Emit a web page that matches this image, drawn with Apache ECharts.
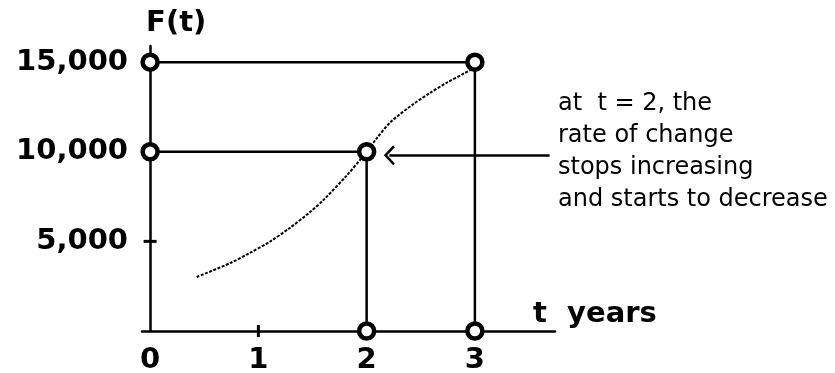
<!DOCTYPE html>
<html>
<head>
<meta charset="utf-8">
<script src="https://cdn.jsdelivr.net/npm/echarts@6/dist/echarts.min.js"></script>
<style>
  html, body { margin: 0; padding: 0; background: #fff; }
  #main { width: 835px; height: 373px; }
</style>
</head>
<body>
<div id="main"></div>
<script>
// curve F(t)
var curveT = [0.43, 0.74, 0.92, 1.11, 1.29, 1.48, 1.6, 1.82, 1.96, 2.1, 2.22, 2.43, 2.59, 2.74, 2.91, 3.0];
var curveF = [3010, 3790, 4350, 5000, 5750, 6650, 7300, 8700, 9700, 10800, 11650, 12650, 13300, 13850, 14400, 14700];

// open circles and the guide lines through them
var circles = [[0, 15000], [3, 15000], [0, 10000], [2, 10000], [2, 0], [3, 0]];
var guide15 = [[0, 15000], [3, 15000], [3, 0]];
var guide10 = [[0, 10000], [2, 10000], [2, 0]];

// axis ticks / labels
var xLabels = [0, 1, 2, 3];
var yLabels = [5000, 10000, 15000];
var xTicks = [1];
var yTicks = [5000];

var note = ['at  t = 2, the', 'rate of change', 'stops increasing', 'and starts to decrease'];
var arrowFrom = [3.69, 9800];
var arrowTo = [2.21, 9800];

var curveData = [];
for (var i = 0; i < curveT.length; i++) {
    curveData.push([curveT[i], curveF[i]]);
}
var tickData = [];
for (var i = 0; i < xTicks.length; i++) {
    tickData.push({ value: [xTicks[i], 0], symbolSize: [3, 12] });
}
for (var i = 0; i < yTicks.length; i++) {
    tickData.push({ value: [0, yTicks[i]], symbolSize: [13, 3] });
}

var boldFont = 'DejaVu Sans';
var myChart = echarts.init(document.getElementById('main'));

var option = {
    animation: false,
    backgroundColor: '#fff',
    grid: {
        left: 142,
        right: 280,
        top: 46,
        bottom: 42,
        containLabel: false,
        outerBoundsMode: 'none'
    },
    xAxis: {
        type: 'value',
        min: -0.075,
        max: 3.74,
        splitLine: { show: false },
        axisLine: { lineStyle: { color: '#000', width: 2.5 } },
        axisTick: { show: false },
        axisLabel: {
            customValues: xLabels,
            margin: 15,
            color: '#000',
            fontFamily: boldFont,
            fontWeight: 'bold',
            fontSize: 29
        },
        name: 't  years',
        nameLocation: 'end',
        nameGap: -22,
        nameTextStyle: {
            color: '#000',
            fontFamily: boldFont,
            fontWeight: 'bold',
            fontSize: 29,
            verticalAlign: 'bottom',
            padding: [0, 0, 2, 0]
        }
    },
    yAxis: {
        type: 'value',
        min: 0,
        max: 15900,
        splitLine: { show: false },
        axisLine: { onZero: true, lineStyle: { color: '#000', width: 2.5 } },
        axisTick: { show: false },
        axisLabel: {
            customValues: yLabels,
            margin: 14,
            color: '#000',
            fontFamily: boldFont,
            fontWeight: 'bold',
            fontSize: 29,
            formatter: function (v) {
                return v.toLocaleString('en-US');
            }
        },
        name: 'F(t)',
        nameLocation: 'end',
        nameGap: 8,
        nameTextStyle: {
            color: '#000',
            fontFamily: boldFont,
            fontWeight: 'bold',
            fontSize: 29,
            align: 'left',
            verticalAlign: 'bottom',
            padding: [0, 0, 0, -4]
        }
    },
    series: [
        {
            type: 'line',
            data: guide15,
            symbol: 'none',
            lineStyle: { color: '#000', width: 2.5 },
            z: 2
        },
        {
            type: 'line',
            data: guide10,
            symbol: 'none',
            lineStyle: { color: '#000', width: 2.5 },
            z: 2,
            markLine: {
                silent: true,
                symbol: ['none', 'path://M10,0 L20,10 L18.2,11.8 L10,3.6 L1.8,11.8 L0,10 Z'],
                symbolSize: [20, 11],
                label: { show: false },
                lineStyle: { color: '#000', width: 2.5, type: 'solid' },
                data: [[{ coord: arrowFrom }, { coord: arrowTo }]]
            }
        },
        {
            type: 'line',
            data: curveData,
            smooth: 0.3,
            symbol: 'none',
            lineStyle: { color: '#000', width: 2, type: [3, 1.5] },
            z: 3
        },
        {
            type: 'scatter',
            data: tickData,
            symbol: 'rect',
            itemStyle: { color: '#000', opacity: 1 },
            z: 4
        },
        {
            type: 'scatter',
            data: circles,
            symbol: 'circle',
            symbolSize: 15,
            itemStyle: { color: '#fff', borderColor: '#000', borderWidth: 4.5, opacity: 1 },
            z: 5
        }
    ],
    graphic: [
        {
            type: 'text',
            left: 558,
            top: 88,
            style: {
                text: note.join('\n'),
                fill: '#000',
                font: '24px "DejaVu Sans"',
                lineHeight: 32
            }
        }
    ]
};

myChart.setOption(option);
</script>
</body>
</html>
